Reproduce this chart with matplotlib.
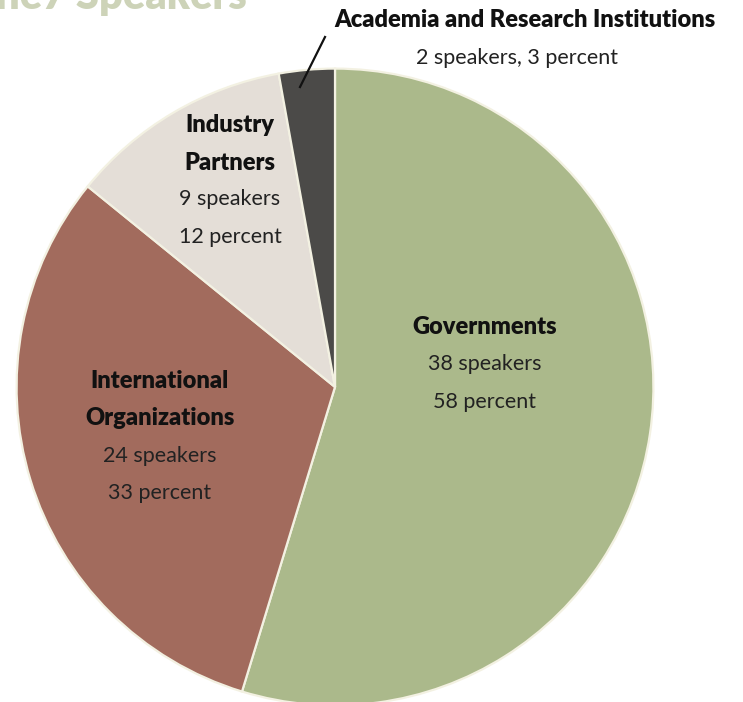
import matplotlib
matplotlib.use("Agg")
import matplotlib.pyplot as plt

plt.rcParams['font.family'] = ['Lato', 'DejaVu Sans']

# slice data (pie is drawn from the printed percentages)
groups = ['Governments', 'International Organizations', 'Industry Partners',
          'Academia and Research Institutions']
speakers = [38, 24, 9, 2]
percents = [58, 33, 12, 3]
colors = ['#abb98b', '#a26b5d', '#e4ded7', '#4b4a48']

W, H = 743, 702
fig = plt.figure(figsize=(W / 100, H / 100), dpi=100)

# pie centre ~ (335, 387) px, radius ~320 px
cx, cy, r = 335, 387, 320
ax = fig.add_axes([(cx - r) / W, 1 - (cy + r) / H, 2 * r / W, 2 * r / H])
ax.pie(percents, colors=colors, startangle=90, counterclock=False, radius=1,
       wedgeprops=dict(edgecolor='#f3f1e2', linewidth=1.6))
ax.set_xlim(-1.005, 1.005)
ax.set_ylim(-1.005, 1.005)
ax.set_aspect('equal')
ax.axis('off')


def px(x, y, s, **kw):
    kw.setdefault('ha', 'center')
    fig.text(x / W, 1 - y / H, s, va='center', **kw)


bold = dict(fontsize=17, fontweight='heavy', color='#111111')
norm = dict(fontsize=15.5, color='#222222')

# partly cut title at the very top (cut in the source too)
px(-4, -3, 'ne7 Speakers', ha='left', fontsize=30, fontweight='heavy',
   color='#cdd3b8')

# Governments
px(485, 327, 'Governments', **bold)
px(485, 364, f'{speakers[0]} speakers', **norm)
px(485, 402, f'{percents[0]} percent', **norm)

# International Organizations
px(160, 381, 'International', **bold)
px(160, 418, 'Organizations', **bold)
px(160, 456, f'{speakers[1]} speakers', **norm)
px(160, 493, f'{percents[1]} percent', **norm)

# Industry Partners
px(230, 125, 'Industry', **bold)
px(230, 163, 'Partners', **bold)
px(230, 199, f'{speakers[2]} speakers', **norm)
px(230, 237, f'{percents[2]} percent', **norm)

# Academia, outside with leader line
px(525, 20, groups[3], **bold)
px(517, 58, f'{speakers[3]} speakers, {percents[3]} percent', **norm)
fig.add_artist(plt.Line2D([325 / W, 300 / W], [1 - 37 / H, 1 - 87 / H],
                          color='#111111', linewidth=1.6))

fig.savefig('out.png', dpi=100, facecolor='white')
